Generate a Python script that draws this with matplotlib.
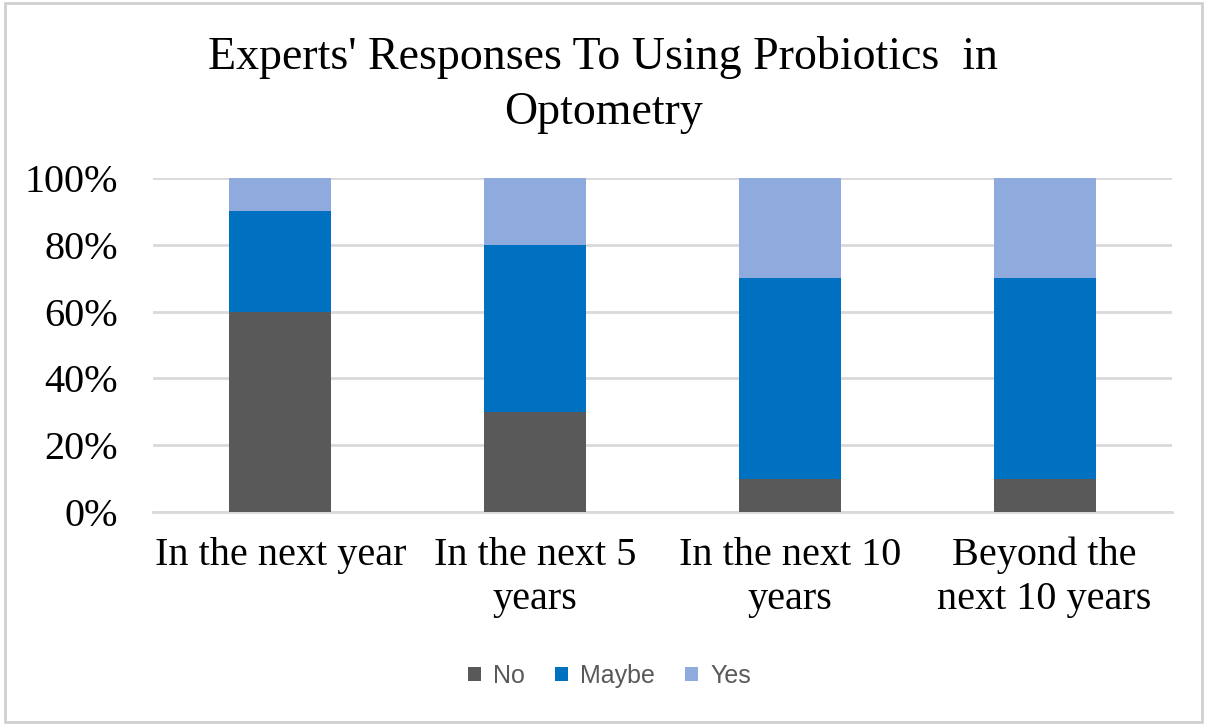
import numpy as np
import matplotlib.pyplot as plt
from matplotlib.patches import Rectangle

# Respostas dos especialistas (percentuais por horizonte de tempo)
categorias = ["In the next year", "In the next 5\nyears", "In the next 10\nyears",
              "Beyond the\nnext 10 years"]
nao = [60, 30, 10, 10]
talvez = [30, 50, 60, 60]
sim = [10, 20, 30, 30]

cores = {"No": "#595959", "Maybe": "#0070C0", "Yes": "#8FAADC"}

fig = plt.figure(figsize=(12.07, 7.25), dpi=100)
ax = fig.add_axes([153 / 1207, 1 - 512 / 725, 1019 / 1207, 334 / 725])

x = np.arange(len(categorias))
largura = 0.4
base = np.zeros(len(categorias))
for nome, valores in [("No", nao), ("Maybe", talvez), ("Yes", sim)]:
    ax.bar(x, valores, largura, bottom=base, color=cores[nome], label=nome, zorder=3)
    base += np.array(valores)

ax.set_xlim(-0.5, len(categorias) - 0.5)
ax.set_ylim(0, 100)
ax.set_yticks(range(0, 101, 20))
ax.set_yticklabels([f"{v}%" for v in range(0, 101, 20)],
                   fontfamily="Liberation Serif", fontsize=29)
ax.set_xticks(x)
ax.set_xticklabels(categorias, fontfamily="Liberation Serif", fontsize=29,
                   linespacing=1.25, va="top")
ax.tick_params(length=0)
ax.tick_params(axis="x", pad=18)
ax.tick_params(axis="y", pad=25)

ax.grid(axis="y", color="#D9D9D9", linewidth=2, zorder=0)
for lado in ["top", "right", "left"]:
    ax.spines[lado].set_visible(False)
ax.spines["bottom"].set_color("#D9D9D9")
ax.spines["bottom"].set_linewidth(2)

fig.text(0.5, 1 - 85 / 725, "Experts' Responses To Using Probiotics  in\nOptometry",
         ha="center", va="center", fontfamily="Liberation Serif", fontsize=33,
         linespacing=1.4)

leg = fig.legend(loc="center", bbox_to_anchor=(0.505, 1 - 676 / 725), ncol=3,
                 frameon=False, prop={"family": "Liberation Sans", "size": 18},
                 handlelength=0.5, handleheight=0.5, handletextpad=0.5,
                 columnspacing=1.2)
for t in leg.get_texts():
    t.set_color("#595959")

# Moldura externa do gráfico
fig.patches.append(Rectangle((0.004, 0.004), 0.992, 0.992, transform=fig.transFigure,
                             fill=False, edgecolor="#D0D0D0", linewidth=2))

plt.savefig("out.png", dpi=100)
